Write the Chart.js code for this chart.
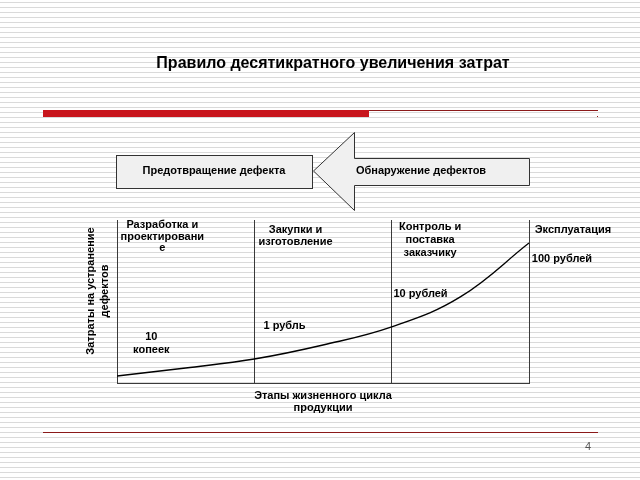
<!DOCTYPE html>
<html>
<head>
<meta charset="utf-8">
<script src="https://cdn.jsdelivr.net/npm/chart.js@4/dist/chart.umd.min.js"></script>
<style>
  html, body { margin: 0; padding: 0; background: #fff; }
  #wrap { width: 640px; height: 480px; }
</style>
</head>
<body>
<div id="wrap"><canvas id="myChart" width="640" height="480"></canvas></div>
<script>
// Правило десятикратного увеличения затрат

const chartTitle = "Правило десятикратного увеличения затрат";
const preventText = "Предотвращение дефекта";
const detectText = "Обнаружение дефектов";

// stages of the life cycle (column captions, split as on the slide)
const stageLabels = [
	["Разработка и", "проектировани", "е"],
	["Закупки и", "изготовление"],
	["Контроль и", "поставка", "заказчику"],
	["Эксплуатация"]
];
// cost at each stage
const costLabels = [["10", "копеек"], ["1 рубль"], ["10 рублей"], ["100 рублей"]];

// the cost curve (stage index -> relative height)
const curveX = [0, 0.5, 1, 1.5, 2, 2.5, 3];
const curveY = [4.3, 9.2, 14.7, 23.3, 34.4, 52.8, 85.9];

const yTitle = ["Затраты на устранение", "дефектов"];
const xTitle = ["Этапы жизненного цикла", "продукции"];
const pageNumber = "4";

const FONT = "'Liberation Sans', Arial, sans-serif";

function lines(ctx, arr, x, y, lh) {
	for (let i = 0; i < arr.length; i++) {
		ctx.fillText(arr[i], x, y + i * lh);
	}
}

const slidePlugin = {
	id: "slide",
	beforeDraw(chart) {
		const ctx = chart.ctx;
		ctx.save();
		// lined paper background
		ctx.fillStyle = "#ffffff";
		ctx.fillRect(0, 0, chart.width, chart.height);
		ctx.fillStyle = "#dadada";
		for (let y = 2; y < chart.height; y += 5) {
			ctx.fillRect(0, y, chart.width, 1);
		}
		// title
		ctx.fillStyle = "#000";
		ctx.font = "bold 16px " + FONT;
		ctx.textAlign = "center";
		ctx.textBaseline = "middle";
		ctx.fillText(chartTitle, 333, 64);
		// red rule
		ctx.fillStyle = "#c8161d";
		ctx.fillRect(43, 110, 326, 7);
		ctx.fillStyle = "#8b1a1a";
		ctx.fillRect(369, 110, 229, 1);
		ctx.fillRect(597, 116, 1, 1);
		// bottom rule
		ctx.fillRect(43, 432, 555, 1);
		// page number
		ctx.fillStyle = "#555";
		ctx.font = "11px " + FONT;
		ctx.fillText(pageNumber, 588, 447);

		// prevention box
		ctx.fillStyle = "#f0f0f0";
		ctx.strokeStyle = "#333";
		ctx.lineWidth = 1;
		ctx.fillRect(116.5, 155.5, 196, 33);
		ctx.strokeRect(116.5, 155.5, 196, 33);
		// detection arrow
		ctx.beginPath();
		ctx.moveTo(313.5, 171);
		ctx.lineTo(354.5, 132.5);
		ctx.lineTo(354.5, 158.5);
		ctx.lineTo(529.5, 158.5);
		ctx.lineTo(529.5, 185.5);
		ctx.lineTo(354.5, 185.5);
		ctx.lineTo(354.5, 210.5);
		ctx.closePath();
		ctx.fill();
		ctx.stroke();
		ctx.fillStyle = "#000";
		ctx.font = "bold 11px " + FONT;
		ctx.fillText(preventText, 214, 171);
		ctx.fillText(detectText, 421, 171);
		ctx.restore();
	},
	afterDraw(chart) {
		const ctx = chart.ctx;
		const xs = chart.scales.x;
		ctx.save();
		ctx.fillStyle = "#000";
		ctx.font = "bold 11px " + FONT;
		ctx.textAlign = "center";
		ctx.textBaseline = "middle";
		// column captions
		const capX = [0.33, 1.3, 2.28, 3.32];
		const capY = [225, 230, 227, 230];
		const capLH = [11.5, 12.3, 12.8, 12];
		for (let i = 0; i < stageLabels.length; i++) {
			lines(ctx, stageLabels[i], xs.getPixelForValue(capX[i]), capY[i], capLH[i]);
		}
		// cost captions
		const costX = [0.25, 0.22, 0.21, 0.24];
		const costY = [336.5, 326, 294, 259];
		for (let i = 0; i < costLabels.length; i++) {
			lines(ctx, costLabels[i], xs.getPixelForValue(i + costX[i]), costY[i], 13.5);
		}
		// axis titles
		const midX = (xs.left + xs.right) / 2;
		lines(ctx, xTitle, midX, 395.5, 12.8);
		ctx.translate(91, 291);
		ctx.rotate(-Math.PI / 2);
		lines(ctx, yTitle, 0, 0, 14);
		ctx.restore();
	}
};

const points = curveX.map((x, i) => ({ x: x, y: curveY[i] }));

const ctx = document.getElementById("myChart").getContext("2d");
const myChart = new Chart(ctx, {
	type: "line",
	data: {
		datasets: [{
			data: points,
			borderColor: "#000",
			borderWidth: 1.4,
			pointRadius: 0,
			fill: false,
			tension: 0.4
		}]
	},
	options: {
		responsive: false,
		animation: false,
		layout: { padding: { left: 117, right: 111, top: 220, bottom: 97 } },
		plugins: { legend: { display: false }, tooltip: { enabled: false } },
		scales: {
			x: {
				type: "linear",
				min: 0,
				max: 3,
				ticks: { display: false, stepSize: 1 },
				grid: { display: true, color: "#3a3a3a", lineWidth: 1, drawTicks: false },
				border: { display: true, color: "#3a3a3a", width: 1 }
			},
			y: {
				min: 0,
				max: 100,
				ticks: { display: false },
				grid: { display: false, drawTicks: false },
				border: { display: true, color: "#3a3a3a", width: 1 }
			}
		}
	},
	plugins: [slidePlugin]
});
</script>
</body>
</html>
